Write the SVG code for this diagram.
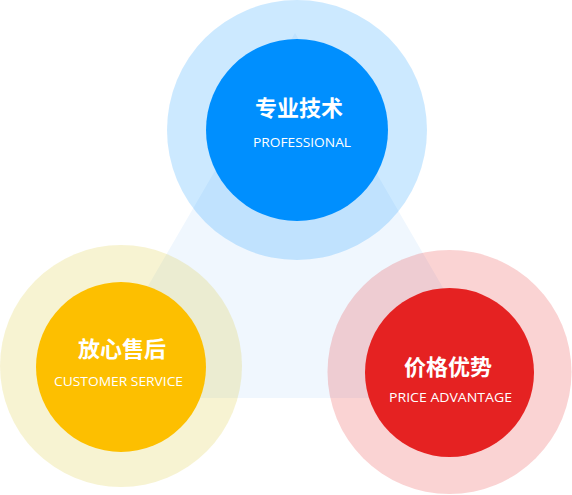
<svg xmlns="http://www.w3.org/2000/svg" width="572" height="495" viewBox="0 0 572 495">
<style>
.cn{font-family:"Noto Sans CJK SC","Noto Sans",sans-serif;font-weight:bold;font-size:22px;fill:#fff;text-anchor:middle}
.en{font-family:"Open Sans","Liberation Sans",sans-serif;font-size:13.5px;fill:#fff;text-anchor:middle}
.halo{fill-opacity:0.2}
</style>
<rect width="572" height="495" fill="#ffffff"/>
<g id="connectors">
<polygon points="295,33 507,398 83,398" fill="#f0f7fe"/>
</g>
<g id="node-top">
<circle class="halo" cx="297" cy="130" r="130" fill="#008ffe"/>
<circle cx="297" cy="130" r="91" fill="#008ffe"/>
<text class="cn" x="299" y="116">专业技术</text>
<text class="en" x="302" y="147" textLength="98" lengthAdjust="spacingAndGlyphs">PROFESSIONAL</text>
</g>
<g id="node-left">
<circle class="halo" cx="121" cy="366" r="121" fill="#d9c21e"/>
<circle cx="121" cy="367" r="85" fill="#fdbf00"/>
<text class="cn" x="122" y="357">放心售后</text>
<text class="en" x="118.5" y="386" textLength="129" lengthAdjust="spacingAndGlyphs">CUSTOMER SERVICE</text>
</g>
<g id="node-right">
<circle class="halo" cx="449.5" cy="372" r="122" fill="#e52222"/>
<circle cx="449.5" cy="372.5" r="84.5" fill="#e52222"/>
<text class="cn" x="448" y="375">价格优势</text>
<text class="en" x="450.5" y="402" textLength="123" lengthAdjust="spacingAndGlyphs">PRICE ADVANTAGE</text>
</g>
</svg>
